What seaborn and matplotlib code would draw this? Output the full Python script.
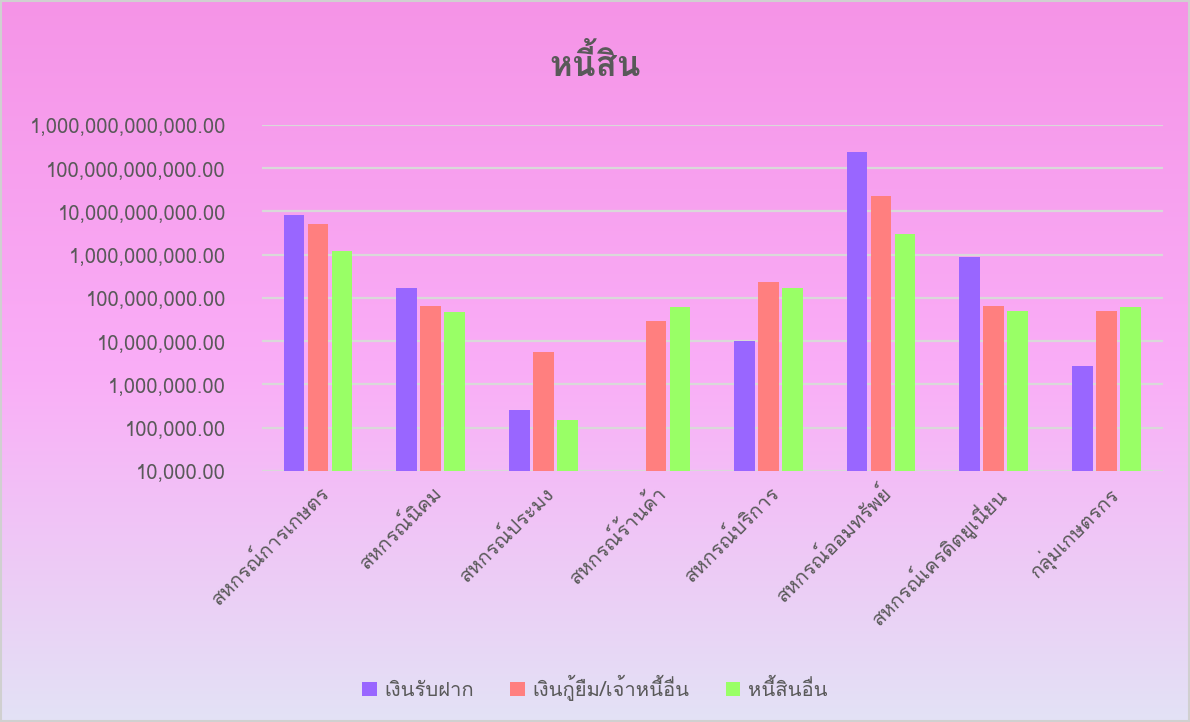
import numpy as np
import pandas as pd
import matplotlib
matplotlib.use("Agg")
import matplotlib.pyplot as plt
import seaborn as sns
from matplotlib import font_manager, ft2font
from matplotlib.ticker import FuncFormatter, FixedLocator
from matplotlib.colors import LinearSegmentedColormap
from matplotlib.patches import Rectangle

categories = ["สหกรณ์การเกษตร", "สหกรณ์นิคม", "สหกรณ์ประมง", "สหกรณ์ร้านค้า",
              "สหกรณ์บริการ", "สหกรณ์ออมทรัพย์", "สหกรณ์เครดิตยูเนี่ยน", "กลุ่มเกษตรกร"]
series_names = ["เงินรับฝาก", "เงินกู้ยืม/เจ้าหนี้อื่น", "หนี้สินอื่น"]
deposits = [8.4e9, 1.73e8, 2.5e5, np.nan, 1.02e7, 2.42e11, 8.8e8, 2.6e6]
loans = [5.0e9, 6.5e7, 5.6e6, 2.85e7, 2.3e8, 2.23e10, 6.4e7, 5.0e7]
other = [1.23e9, 4.7e7, 1.5e5, 6.1e7, 1.73e8, 3.0e9, 4.9e7, 6.0e7]
colors = ["#9966FF", "#FF7F7F", "#99FF66"]
title = "หนี้สิน"

# find an installed font that has Thai glyphs
thai_font = None
for f in font_manager.fontManager.ttflist:
    try:
        if ord("ห") in ft2font.FT2Font(f.fname).get_charmap():
            thai_font = f.name
            break
    except Exception:
        pass

sns.set_style("white")
fams = ([thai_font] if thai_font else []) + ["DejaVu Sans"]
plt.rcParams["font.family"] = fams

df = pd.DataFrame({
    "cat": categories * 3,
    "series": [s for s in series_names for _ in categories],
    "value": deposits + loans + other,
})

fig = plt.figure(figsize=(11.9, 7.22), dpi=100)

# gradient background
bg = fig.add_axes([0, 0, 1, 1], zorder=-5)
cmap = LinearSegmentedColormap.from_list(
    "bg", [(0, "#F594E7"), (0.52, "#FAAEF7"), (1, "#E3E2F5")])
bg.imshow(np.linspace(0, 1, 256).reshape(-1, 1), aspect="auto", cmap=cmap,
          extent=[0, 1, 0, 1])
bg.set_axis_off()
fig.patches.append(Rectangle((0.001, 0.001), 0.998, 0.997, transform=fig.transFigure,
                             fill=False, edgecolor="#D0D0D0", lw=1.5))

ax = fig.add_axes([0.220, 0.348, 0.757, 0.479])
ax.set_facecolor("none")
sns.barplot(data=df, x="cat", y="value", hue="series", palette=colors,
            saturation=1, width=0.64, gap=0.14, linewidth=0, ax=ax,
            legend=True, zorder=3)
ax.set_yscale("log")
ax.set_ylim(1e4, 1e12)
ax.yaxis.set_major_locator(FixedLocator([10.0 ** k for k in range(4, 13)]))
ax.yaxis.set_minor_locator(FixedLocator([]))
ax.yaxis.set_major_formatter(FuncFormatter(lambda v, p: f"{v:,.2f}"))
ax.grid(axis="y", color="#D9D9D9", lw=1.6, zorder=0)
ax.set_axisbelow(True)
for s in ax.spines.values():
    s.set_visible(False)
ax.tick_params(axis="both", length=0, colors="#595959", labelsize=14.5)
ax.tick_params(axis="y", pad=26)
ax.tick_params(axis="x", pad=8)
ax.set_xlabel("")
ax.set_ylabel("")
for lab in ax.get_xticklabels():
    lab.set_rotation(45)
    lab.set_ha("right")
    lab.set_rotation_mode("anchor")
ax.set_xlim(-0.5, len(categories) - 0.5)

fig.text(0.5, 0.913, title, ha="center", va="center", fontsize=25,
         fontweight="bold", color="#595959")

handles, labels = ax.get_legend_handles_labels()
ax.legend_.remove()
fig.legend(handles, labels, loc="center", bbox_to_anchor=(0.5, 0.047), ncol=3,
           frameon=False, fontsize=14.5, handlelength=0.7, handleheight=0.7,
           handletextpad=0.4, columnspacing=1.8, labelcolor="#595959")

fig.savefig("out.png", dpi=100)
